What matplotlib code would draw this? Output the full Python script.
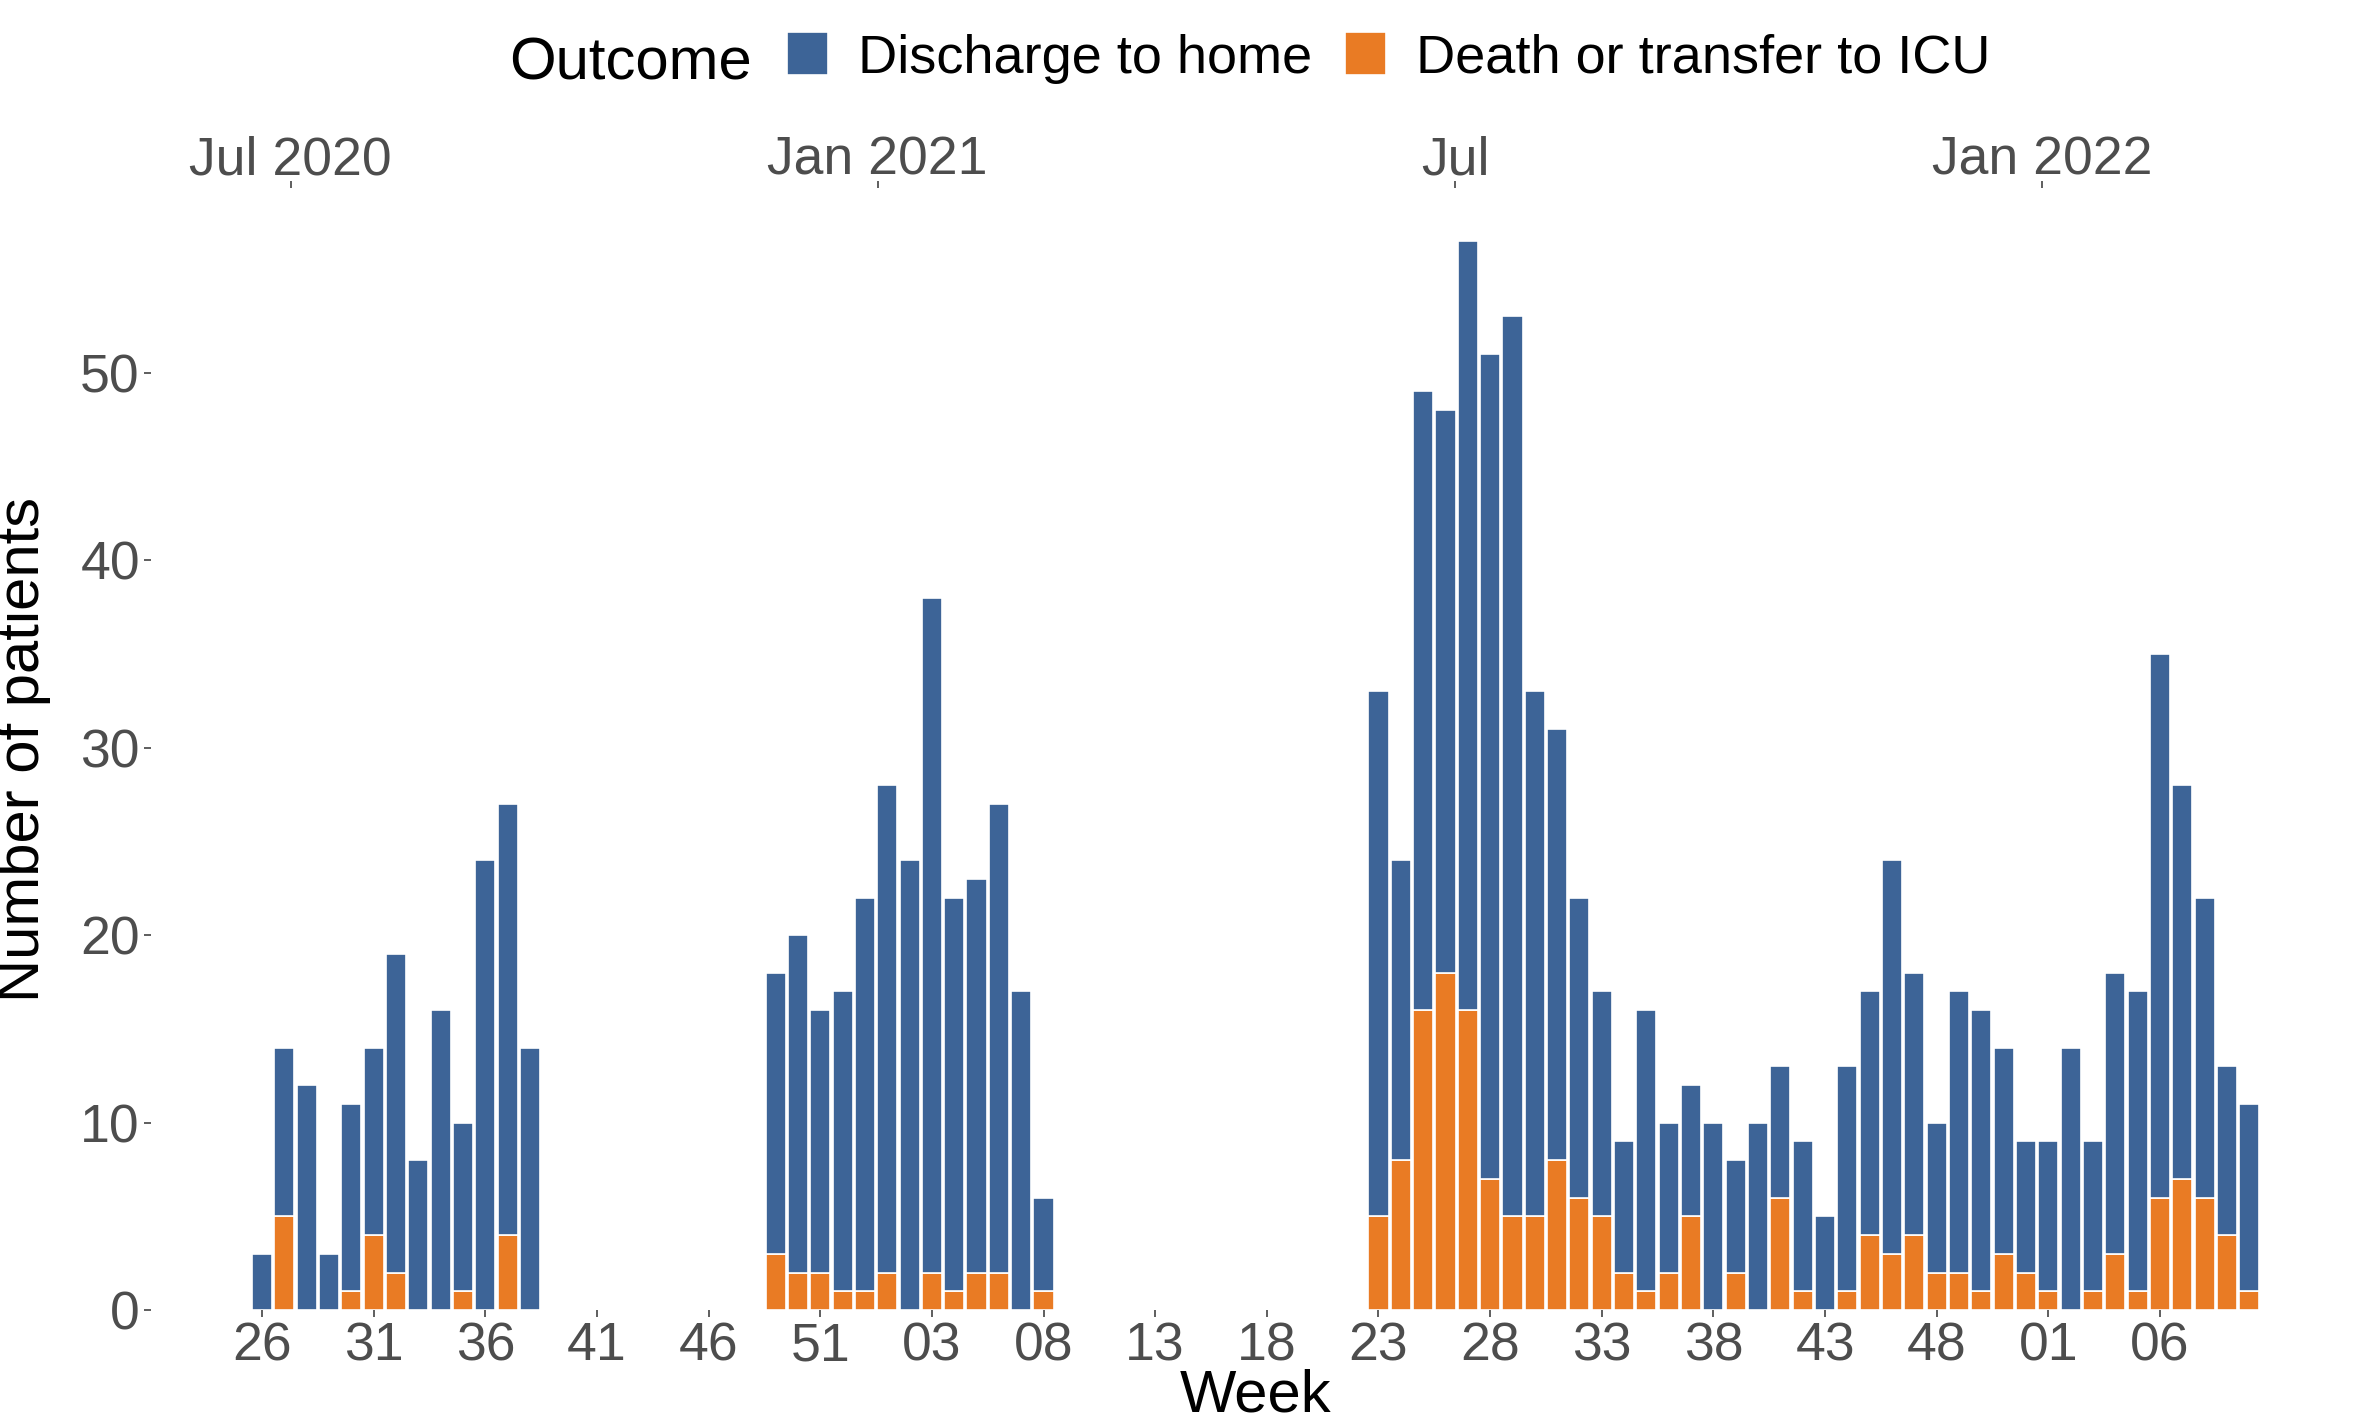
"""
Weekly admissions by outcome, waves 2020-2022.
"""

import numpy as np
import pandas as pd
import matplotlib
matplotlib.use("Agg")
import matplotlib.pyplot as plt
import matplotlib.patches as mpatches

plt.rcParams["font.family"] = ["Liberation Sans", "DejaVu Sans"]

BLUE   = "#3D6497"
ORANGE = "#E97B24"
GREY   = "#4D4D4D"

# ISO year / week of each bar
week_year = [2020] * 13 + [2020] * 5 + [2021] * 8 + [2021] * 30 + [2022] * 10
week_num  = (list(range(26, 39)) + list(range(49, 54)) + list(range(1, 9))
             + list(range(23, 53)) + list(range(1, 11)))

# total patients per week
total = [3, 14, 12, 3, 11, 14, 19, 8, 16, 10, 24, 27, 14,
         18, 20, 16, 17, 22, 28, 24, 38, 22, 23, 27, 17, 6,
         33, 24, 49, 48, 57, 51, 53, 33, 31, 22,
         17, 9, 16, 10, 12, 10, 8, 10, 13, 9,
         5, 13, 17, 24, 18, 10, 17, 16, 14, 9,
         9, 14, 9, 18, 17, 35, 28, 22, 13, 11]

# death or transfer to ICU per week
death = [0, 5, 0, 0, 1, 4, 2, 0, 0, 1, 0, 4, 0,
         3, 2, 2, 1, 1, 2, 0, 2, 1, 2, 2, 0, 1,
         5, 8, 16, 18, 16, 7, 5, 5, 8, 6,
         5, 2, 1, 2, 5, 0, 2, 0, 6, 1,
         0, 1, 4, 3, 4, 2, 2, 1, 3, 2,
         1, 0, 1, 3, 1, 6, 7, 6, 4, 1]

top_dates  = ["2020-07-01", "2021-01-01", "2021-07-01", "2022-01-01"]
top_labels = ["Jul 2020", "Jan 2021", "Jul", "Jan 2022"]

total = np.array(total)
death = np.array(death)
discharge = total - death

base = pd.Timestamp.fromisocalendar(2020, 26, 1)
mondays = [pd.Timestamp.fromisocalendar(y, w, 1) for y, w in zip(week_year, week_num)]
x = np.array([(m - base).days / 7 for m in mondays])

# bottom ticks every 5 weeks
tick_idx = np.arange(0, 86, 5)
tick_lab = [f"{(base + pd.Timedelta(days=7 * int(i))).isocalendar()[1]:02d}" for i in tick_idx]
top_pos  = [(pd.Timestamp(d) - base).days / 7 for d in top_dates]

W, H = 2372, 1421
fig = plt.figure(figsize=(W / 100, H / 100), dpi=100)
ax = fig.add_axes([151 / W, 1 - 1310 / H, (2361 - 151) / W, (1310 - 188) / H])

ax.bar(x, death, width=0.9, color=ORANGE, edgecolor="white", linewidth=1.2)
ax.bar(x, discharge, bottom=death, width=0.9, color=BLUE, edgecolor="white", linewidth=1.2)

ax.set_xlim(-4.97, 94.0)
ax.set_ylim(0, 59.85)
ax.set_yticks(range(0, 51, 10))
ax.set_xticks(tick_idx)
ax.set_xticklabels(tick_lab)
for s in ax.spines.values():
    s.set_visible(False)
ax.tick_params(axis="both", length=5, width=1.1, color="#333333",
               labelsize=38.5, labelcolor=GREY, pad=3)

ax2 = ax.twiny()
ax2.set_xlim(ax.get_xlim())
ax2.set_xticks(top_pos)
ax2.set_xticklabels(top_labels)
for s in ax2.spines.values():
    s.set_visible(False)
ax2.tick_params(axis="x", length=5, width=1.1, color="#333333",
                labelsize=38.5, labelcolor=GREY, pad=-3)

# legend: inline title + two keys
fig.text(752 / W, 1 - 79 / H, "Outcome", ha="right", va="baseline", fontsize=43)
handles = [mpatches.Patch(facecolor=BLUE, edgecolor="white", linewidth=1.2),
           mpatches.Patch(facecolor=ORANGE, edgecolor="white", linewidth=1.2)]
fig.legend(handles, ["Discharge to home", "Death or transfer to ICU"],
           loc="center left", bbox_to_anchor=(787 / W, 1 - 58 / H), ncol=2,
           frameon=False, fontsize=39, handlelength=0.76, handleheight=0.83,
           handletextpad=0.55, columnspacing=0.6, borderpad=0, borderaxespad=0)

fig.text(24 / W, 1 - 750 / H, "Number of patients", rotation=90,
         ha="center", va="center", fontsize=43)
fig.text(1256 / W, 1 - 1411 / H, "Week", ha="center", va="baseline", fontsize=43)

fig.savefig("out.png", dpi=100)
